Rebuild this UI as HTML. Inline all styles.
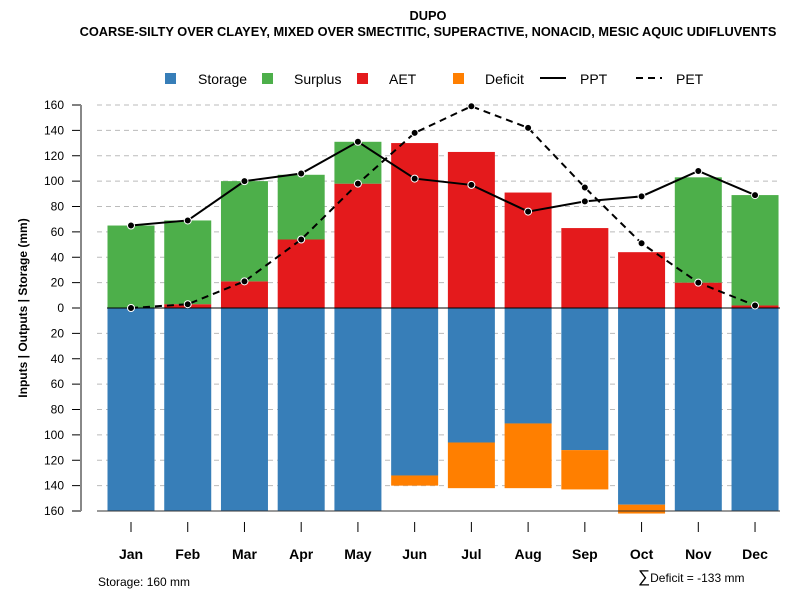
<!DOCTYPE html>
<html><head><meta charset="utf-8"><style>
body{margin:0;background:#fff}
svg{font-family:"Liberation Sans",sans-serif}
</style></head><body>
<svg id="c" width="800" height="600">
<text x="428" y="20" text-anchor="middle" font-size="12.8" font-weight="bold">DUPO</text>
<text x="428" y="36" text-anchor="middle" font-size="12.8" font-weight="bold">COARSE-SILTY OVER CLAYEY, MIXED OVER SMECTITIC, SUPERACTIVE, NONACID, MESIC AQUIC UDIFLUVENTS</text>
<g font-size="14">
<rect x="165" y="73" width="11" height="11" fill="#377EB8"/>
<text x="198" y="84">Storage</text>
<rect x="262" y="73" width="11" height="11" fill="#4DAF4A"/>
<text x="294" y="84">Surplus</text>
<rect x="357" y="73" width="11" height="11" fill="#E41A1C"/>
<text x="389" y="84">AET</text>
<rect x="453" y="73" width="11" height="11" fill="#FF7F00"/>
<text x="485" y="84">Deficit</text>
<line x1="540" y1="78" x2="566" y2="78" stroke="#000" stroke-width="2"/>
<text x="580" y="84">PPT</text>
<line x1="636" y1="78" x2="662" y2="78" stroke="#000" stroke-width="2" stroke-dasharray="7,5"/>
<text x="676" y="84">PET</text>
</g>
<text transform="translate(27,308) rotate(-90)" text-anchor="middle" font-size="12" font-weight="bold">Inputs | Outputs | Storage    (mm)</text>
<text x="98" y="586" font-size="12">Storage: 160 mm</text>
<text x="638" y="582" font-size="12"><tspan font-size="17">∑</tspan>Deficit = -133 mm</text>
<g id="g"></g>
</svg>
<script>
const months=["Jan","Feb","Mar","Apr","May","Jun","Jul","Aug","Sep","Oct","Nov","Dec"];
const aet=[0,3,21,54,98,130,123,91,63,44,20,2];
const surplus=[65,66,79,51,33,0,0,0,0,0,83,87];
const storage=[160,160,160,160,160,132,106,91,112,155,160,160];
const deficit=[0,0,0,0,0,8,36,51,31,7,0,0];
const ppt=[65,69,100,106,131,102,97,76,84,88,108,89];
const pet=[0,3,21,54,98,138,159,142,95,51,20,2];
const yTicks=[160,140,120,100,80,60,40,20,0,20,40,60,80,100,120,140,160];
const NS="http://www.w3.org/2000/svg";
const g=document.getElementById('g');
const y=v=>308-v*203/160;
const x=i=>131+i*56.73;
const bw=47;
function el(t,a){const e=document.createElementNS(NS,t);for(const k in a)e.setAttribute(k,a[k]);g.appendChild(e);return e;}
yTicks.forEach((t,i)=>{const v=160-i*20;const yy=y(v);
 if(v!==0){const l=el('line',{x1:97,x2:780,y1:yy,y2:yy,stroke:'#bbb','stroke-dasharray':'5,4'});
 
 }
 const tk=el('line',{x1:72,x2:81,y1:yy,y2:yy,stroke:'#000'});
 
 
 const tx=el('text',{x:64,y:yy+4,'text-anchor':'end','font-size':12});tx.textContent=t;
 
 
});
const ax=el('line',{x1:81,x2:81,y1:y(160),y2:y(-160),stroke:'#888','stroke-width':2});


months.forEach((m,i)=>{const cx=x(i),x0=cx-bw/2;
 function bar(a,b,c,n){if(Math.abs(b-a)<0.01)return;const r=el('rect',{x:x0,y:Math.min(y(a),y(b)),width:bw,height:Math.abs(y(a)-y(b)),fill:c});
 
 }
 bar(0,aet[i],'#E41A1C','bar-aet-'+m.toLowerCase());
 bar(aet[i],aet[i]+surplus[i],'#4DAF4A','bar-surplus-'+m.toLowerCase());
 bar(0,-storage[i],'#377EB8','bar-storage-'+m.toLowerCase());
 bar(-storage[i],-storage[i]-deficit[i],'#FF7F00','bar-deficit-'+m.toLowerCase());
 const tk=el('line',{x1:cx,x2:cx,y1:522,y2:532,stroke:'#000'});
 
 
 const t=el('text',{x:cx,y:559,'text-anchor':'middle','font-size':14,'font-weight':'bold'});t.textContent=m;
 
 
});
const z=el('line',{x1:107,x2:780,y1:y(0),y2:y(0),stroke:'#000'});


const b=el('line',{x1:97,x2:780,y1:y(-160),y2:y(-160),stroke:'#333'});


function series(d,dash,n){
 const p=el('polyline',{points:d.map((v,i)=>x(i)+','+y(v)).join(' '),fill:'none',stroke:'#000','stroke-width':2,'stroke-dasharray':dash});
 
 
 d.forEach((v,i)=>{const c=el('circle',{cx:x(i),cy:y(v),r:3.5,fill:'#000',stroke:'#fff','stroke-width':1});
 
 });
}
series(pet,'7,5','pet');
series(ppt,'none','ppt');
</script>
</body></html>
